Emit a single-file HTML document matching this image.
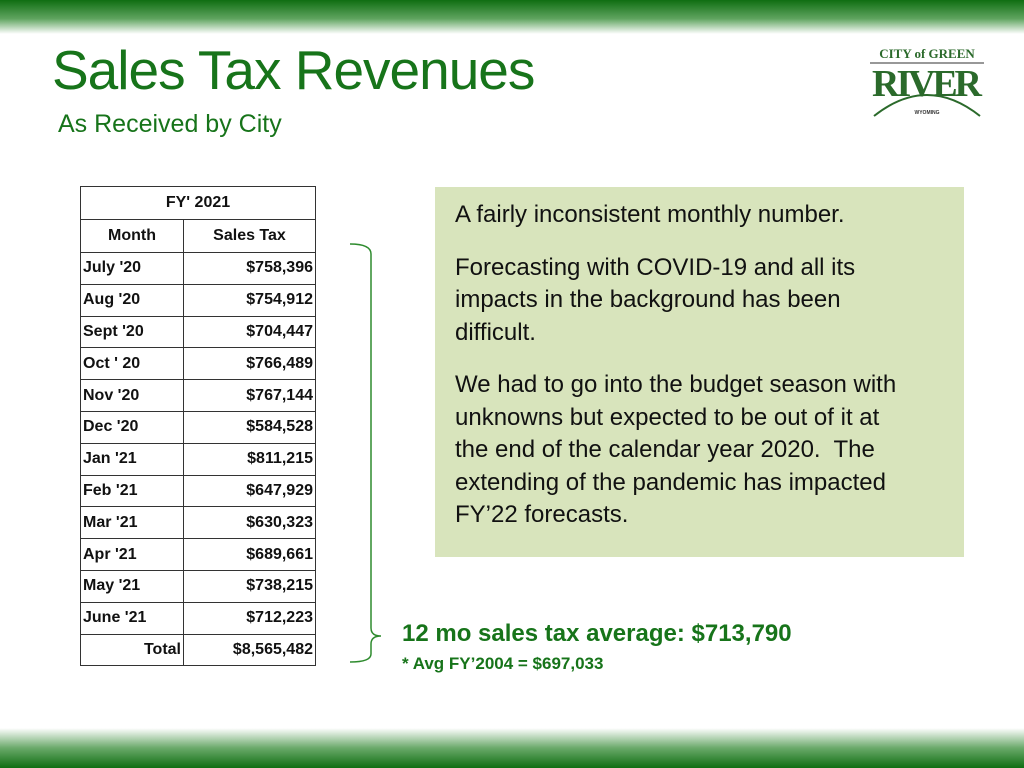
<!DOCTYPE html>
<html><head><style>
body{margin:0;width:1024px;height:768px;background:#fff;position:relative;overflow:hidden;font-family:"Liberation Sans",sans-serif}
.top{position:absolute;left:0;top:0;width:1024px;height:34px;background:linear-gradient(#0f6e12,#5fa45f 55%,#fff)}
.bot{position:absolute;left:0;top:728px;width:1024px;height:40px;background:linear-gradient(#fff,#6aa96a 50%,#0f6e12)}
h1{position:absolute;left:52px;top:38px;margin:0;font-weight:normal;font-size:55px;color:#17741a;letter-spacing:-1px}
.sub{position:absolute;left:58px;top:110px;font-size:25px;color:#17741a}
table{position:absolute;left:80px;top:186px;border-collapse:collapse;font-weight:bold;font-size:16px;color:#111}
td{border:1.5px solid #333;height:31.8px;padding:0 2px;box-sizing:border-box}
.box{position:absolute;left:435px;top:187px;width:529px;height:370px;background:#d8e4bc;box-sizing:border-box;padding:12px 20px;font-size:24px;line-height:32.5px;color:#111;white-space:nowrap}
.box p{margin:0 0 20px}
.avg{position:absolute;left:402px;top:620px;font-weight:bold;font-size:24px;color:#17741a}
.avg2{position:absolute;left:402px;top:654px;font-weight:bold;font-size:17px;color:#17741a}
</style></head><body>
<div class="top"></div><div class="bot"></div>
<h1>Sales Tax Revenues</h1>
<div class="sub">As Received by City</div>
<svg style="position:absolute;left:866px;top:44px" width="122" height="76">
<text x="61" y="14" text-anchor="middle" font-family="Liberation Serif" font-size="13" font-weight="bold" fill="#2b6a2b">CITY of GREEN</text>
<line x1="4" y1="19" x2="118" y2="19" stroke="#777" stroke-width="1.5"/>
<text x="61" y="52" text-anchor="middle" font-family="Liberation Serif" font-size="38" font-weight="bold" fill="#2b6a2b" textLength="110">RIVER</text>
<path d="M8 72 Q61 30 114 72" fill="none" stroke="#2b6a2b" stroke-width="2"/>
<text x="61" y="70" text-anchor="middle" font-size="5" font-weight="bold" fill="#333">WYOMING</text>
</svg>
<table>
<tr><td colspan="2" style="text-align:center;height:33px">FY' 2021</td></tr>
<tr><td style="width:103px;text-align:center;height:33px">Month</td><td style="width:132px;text-align:center">Sales Tax</td></tr>
<tr><td>July '20</td><td style="text-align:right">$758,396</td></tr>
<tr><td>Aug '20</td><td style="text-align:right">$754,912</td></tr>
<tr><td>Sept '20</td><td style="text-align:right">$704,447</td></tr>
<tr><td>Oct ' 20</td><td style="text-align:right">$766,489</td></tr>
<tr><td>Nov '20</td><td style="text-align:right">$767,144</td></tr>
<tr><td>Dec '20</td><td style="text-align:right">$584,528</td></tr>
<tr><td>Jan '21</td><td style="text-align:right">$811,215</td></tr>
<tr><td>Feb '21</td><td style="text-align:right">$647,929</td></tr>
<tr><td>Mar '21</td><td style="text-align:right">$630,323</td></tr>
<tr><td>Apr '21</td><td style="text-align:right">$689,661</td></tr>
<tr><td>May '21</td><td style="text-align:right">$738,215</td></tr>
<tr><td>June '21</td><td style="text-align:right">$712,223</td></tr>
<tr><td style="text-align:right">Total</td><td style="text-align:right">$8,565,482</td></tr>
</table>
<svg style="position:absolute;left:345px;top:240px" width="60" height="430">
<path d="M5 4 Q26 4 26 14 L26 388 Q26 396 36 396 Q26 396 26 404 L26 414 Q26 422 5 422" fill="none" stroke="#2e8b2e" stroke-width="1.5"/>
</svg>
<div class="box">
<p>A fairly inconsistent monthly number.</p>
<p>Forecasting with COVID-19 and all its<br>impacts in the background has been<br>difficult.</p>
<p>We had to go into the budget season with<br>unknowns but expected to be out of it at<br>the end of the calendar year 2020.&nbsp; The<br>extending of the pandemic has impacted<br>FY’22 forecasts.</p>
</div>
<div class="avg">12 mo sales tax average: $713,790</div>
<div class="avg2">* Avg FY’2004 = $697,033</div>
</body></html>
